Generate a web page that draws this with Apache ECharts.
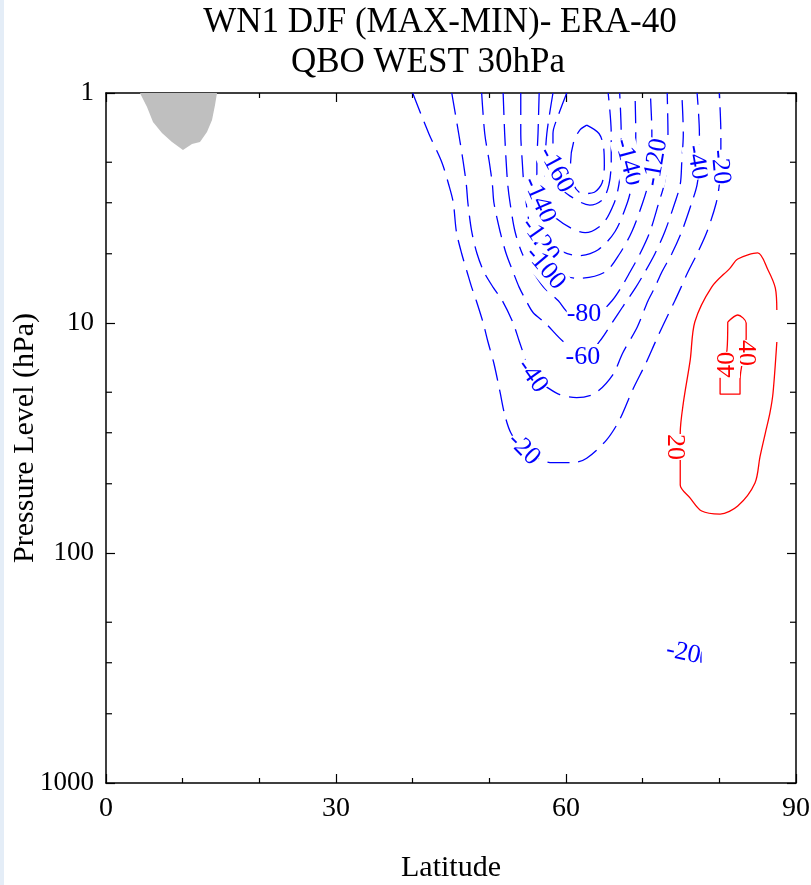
<!DOCTYPE html>
<html><head><meta charset="utf-8">
<script src="https://cdn.jsdelivr.net/npm/echarts@6/dist/echarts.min.js"></script>
<style>html,body{margin:0;padding:0;background:#fff}#c{width:811px;height:885px}</style>
</head><body><div id="c"></div>
<script>
// ---- data (latitude, pressure hPa) ----
const xTickLabels = [0, 30, 60, 90];
const yTickLabels = [1, 10, 100, 1000];
const minorPressureTicks = [2, 3, 5, 20, 30, 50, 200, 300, 500];

const grayArea = [[4.43,1],[5.35,1.15],[6.13,1.337],[7.30,1.493],[8.61,1.633],[10.04,1.769],[11.22,1.666],[12.26,1.633],[13.17,1.477],[13.83,1.31],[14.22,1.128],[14.48,1]];

const c_m20 = [[40.0,1],[42.1,1.5],[43.8,2],[44.7,2.5],[45.3,3],[45.7,4],[46.4,5],[47.1,6],[47.7,7],[48.3,8],[49.2,10],[49.8,12],[50.6,15],[51.4,20],[52.0,25],[52.8,30],[54.3,35],[58.2,40.5],[60.9,40.5],[62.7,38.7],[65.3,32.2],[67.0,26.3],[68.7,19.5],[70.4,15],[71.7,12],[72.8,10],[74.2,8],[75.0,7],[75.9,6],[77.1,5],[78.4,4],[79.6,3],[80.0,2.5],[80.2,2],[80.2,1.5],[80.0,1]];
const c_m40 = [[45.1,1],[46.0,1.5],[46.6,2],[47.0,2.5],[47.2,3],[47.7,4],[48.4,5],[49.3,6],[50.5,7],[51.7,8],[53.1,10],[53.9,12],[54.9,15],[55.6,17.2],[57.5,19.0],[59.2,20.5],[61.4,21.1],[63.8,20.2],[66.1,16.8],[67.4,13.5],[69.3,10.4],[70.7,8],[71.6,7],[72.5,6],[73.8,5],[75.1,4],[76.4,3],[77.1,2.5],[77.4,2],[77.4,1.5],[77.1,1]];
const c_m60 = [[49.0,1],[49.4,1.5],[50.0,2],[50.4,2.5],[50.6,3],[51.4,4],[52.2,5],[53.1,6],[53.9,7],[54.8,8],[55.7,9],[57.3,10],[59.6,12],[62.5,14],[64.4,12],[66.0,10],[67.4,8.5],[69.1,7],[70.3,6],[71.6,5],[72.9,4],[74.2,3],[74.9,2.5],[75.1,2],[75.3,1.5],[75.1,1]];
const c_m80 = [[51.8,1],[52.0,1.5],[52.2,2],[52.4,2.5],[52.7,3],[53.35,4],[54.3,5],[55.7,6],[57.1,7],[59.0,8],[60.3,9],[62.35,9.3],[64.4,9],[66.0,8],[67.2,7],[68.35,6],[69.65,5],[70.96,4],[72.1,3],[72.8,2.5],[73.2,2],[73.3,1.5],[73.2,1]];
const c_m100 = [[54.1,1],[54.1,1.5],[54.3,2],[54.5,2.5],[54.8,3],[55.4,4],[56.2,5],[58.7,6],[61.6,6.4],[65.1,6],[67.0,5],[68.6,4],[70.0,3],[70.7,2.5],[71.1,2],[71.2,1.5],[71.0,1]];
const c_m120 = [[56.5,1],[56.35,1.5],[56.2,2],[56.2,2.5],[56.35,3],[57.3,4],[58.6,4.7],[61.6,5.1],[64.2,4.8],[66.4,4],[68.0,3],[68.6,2.5],[69.0,2],[69.1,1.5],[69.0,1]];
const c_m140 = [[58.3,1],[57.5,1.5],[57.3,2],[57.3,2.5],[57.65,3],[58.7,3.5],[62.5,4.05],[64.8,3.7],[66.3,3],[66.9,2.5],[67.2,2],[67.2,1.5],[67.0,1]];
const c_m160 = [[60.1,1],[59.0,1.25],[58.3,1.5],[58.3,2],[59.0,2.5],[60.5,2.8],[63.1,3.07],[64.8,2.9],[65.6,2.5],[65.9,2],[65.9,1.5],[65.5,1]];
const c_m180 = [[62.7,1.38],[64.3,1.5],[64.9,1.72],[65.0,2.06],[64.7,2.46],[63.7,2.7],[62.1,2.74],[61.0,2.5],[60.6,2.0],[61.0,1.63],[61.8,1.45],[62.7,1.38]];
const c_m20_small = [[77.6,268],[77.6,300]];

const c_p20 = [[87.5,8.78],[87.3,7.04],[86.35,5.88],[85.0,4.96],[82.4,5.27],[81.4,5.77],[79.0,6.98],[76.8,9.9],[76.2,14.5],[75.3,22.3],[74.9,30.1],[74.9,39.4],[74.9,50.6],[76.2,57.7],[77.7,65.7],[80.1,67.7],[82.4,62.5],[84.65,49.6],[85.3,38.2],[86.0,30.1],[86.6,24.6],[87.0,20.2],[87.5,12.1]];
const c_p40 = [[81.1,9.9],[82.4,9.23],[83.5,10.0],[83.5,11.6],[82.7,17.7],[82.7,20.4],[80.1,20.4],[80.1,17.2],[81.0,13.1],[81.1,9.9]];

// contour labels: [lat, pressure, text, angle(deg, clockwise)]
const blueLabels = [
  [58.7,2.16,'-160',62],[56.5,2.92,'-140',66],[56.6,4.36,'-120',55],[57.3,5.77,'-100',50],
  [62.35,9.14,'-80',0],[62.2,14.05,'-60',0],[55.6,17.0,'-40',55],[54.5,35.3,'-20',45],
  [68.1,2.0,'-140',75],[71.7,2.0,'-120',-80],[77.1,2.0,'-40',80],[80.1,2.1,'-20',85],
  [75.3,272,'-20',12]
];
const redLabels = [[74.2,34.6,'20',90],[83.5,13.5,'40',90],[81.0,15.2,'40',-90]];

// ---- chart ----
const FONT = '"Liberation Serif", "Times New Roman", serif';
const BLUE = '#0000ff', RED = '#ff0000';
function contour(data, color, dashed) {
  return {type:'line', data:data, showSymbol:false, symbol:'none', smooth:0.3, silent:true,
    lineStyle:{color:color, width:1.3, type: dashed ? [22,9] : 'solid'}, z:3};
}
function labelSeries(list, color) {
  return {type:'custom', z:10, silent:true, data:list.map(l => [l[0], l[1]]),
    renderItem:(params, api) => {
      const l = list[params.dataIndex];
      const pt = api.coord([l[0], l[1]]);
      return {type:'text', x:pt[0], y:pt[1], rotation:-l[3]*Math.PI/180,
        style:{text:l[2], fill:color, font:'26px ' + FONT, align:'center', verticalAlign:'middle',
          backgroundColor:'#fff'}};
    }};
}
const chart = echarts.init(document.getElementById('c'), null, {renderer:'canvas'});
const xAxisBase = {type:'value', min:0, max:90, interval:30,
  axisLine:{show:true, onZero:false, lineStyle:{color:'#000', width:1.5}},
  axisTick:{show:true, inside:true, length:9, lineStyle:{color:'#000', width:1.2}},
  minorTick:{show:true, splitNumber:3, length:5, lineStyle:{color:'#000', width:1.2}},
  splitLine:{show:false}};
const yAxisBase = {type:'log', logBase:10, min:1, max:1000, inverse:true,
  axisLine:{show:true, onZero:false, lineStyle:{color:'#000', width:1.5}},
  axisTick:{show:true, inside:true, length:9, lineStyle:{color:'#000', width:1.2}},
  splitLine:{show:false}};
chart.setOption({
  animation:false,
  backgroundColor:'#fff',
  grid:{left:106, right:15, top:93, bottom:102, containLabel:false, outerBoundsMode:'none'},
  xAxis:[
    Object.assign({}, xAxisBase, {position:'bottom', name:'Latitude', nameLocation:'middle', nameGap:70,
      nameMoveOverlap:false,
      nameTextStyle:{fontFamily:FONT, fontSize:30, color:'#000'},
      axisLabel:{show:true, margin:12, fontFamily:FONT, fontSize:28, color:'#000',
        formatter:v => xTickLabels.includes(v) ? String(v) : ''}}),
    Object.assign({}, xAxisBase, {position:'top', axisLabel:{show:false}})
  ],
  yAxis:[
    Object.assign({}, yAxisBase, {position:'left', name:'Pressure Level (hPa)', nameLocation:'middle', nameGap:66,
      nameMoveOverlap:false,
      nameTextStyle:{fontFamily:FONT, fontSize:30, color:'#000'},
      axisLabel:{show:true, margin:12, fontFamily:FONT, fontSize:27, color:'#000',
        formatter:v => yTickLabels.includes(Math.round(v)) ? String(Math.round(v)) : ''}}),
    Object.assign({}, yAxisBase, {position:'right', axisLabel:{show:false}})
  ],
  graphic:[
    {type:'rect', left:0, top:0, shape:{width:4, height:885}, style:{fill:'#e4edf7'}, silent:true},
    {type:'text', x:440, y:23, silent:true, style:{text:'WN1 DJF (MAX-MIN)- ERA-40', font:'35px ' + FONT, fill:'#000', align:'center', verticalAlign:'middle'}},
    {type:'text', x:428, y:63, silent:true, style:{text:'QBO WEST 30hPa', font:'35px ' + FONT, fill:'#000', align:'center', verticalAlign:'middle'}}
  ],
  series:[
    {type:'custom', z:1, silent:true, data:[grayArea[0]],
      renderItem:(params, api) => ({type:'polygon', shape:{points:grayArea.map(d => api.coord(d))},
        style:{fill:'#bfbfbf', stroke:null}})},
    {type:'custom', z:4, silent:true, data:minorPressureTicks.map(v => [0, v]),
      renderItem:(params, api) => {
        const v = minorPressureTicks[params.dataIndex];
        const a = api.coord([0, v]), b = api.coord([90, v]);
        const st = {stroke:'#000', lineWidth:1.2};
        return {type:'group', children:[
          {type:'line', shape:{x1:a[0], y1:a[1], x2:a[0]+6, y2:a[1]}, style:st},
          {type:'line', shape:{x1:b[0]-6, y1:b[1], x2:b[0], y2:b[1]}, style:st}]};
      }},
    contour(c_m20, BLUE, true), contour(c_m40, BLUE, true), contour(c_m60, BLUE, true),
    contour(c_m80, BLUE, true), contour(c_m100, BLUE, true), contour(c_m120, BLUE, true),
    contour(c_m140, BLUE, true), contour(c_m160, BLUE, true), contour(c_m180, BLUE, true),
    contour(c_m20_small, BLUE, false),
    contour(c_p20, RED, false), contour(c_p40, RED, false),
    labelSeries(blueLabels, BLUE), labelSeries(redLabels, RED)
  ]
});
</script></body></html>
